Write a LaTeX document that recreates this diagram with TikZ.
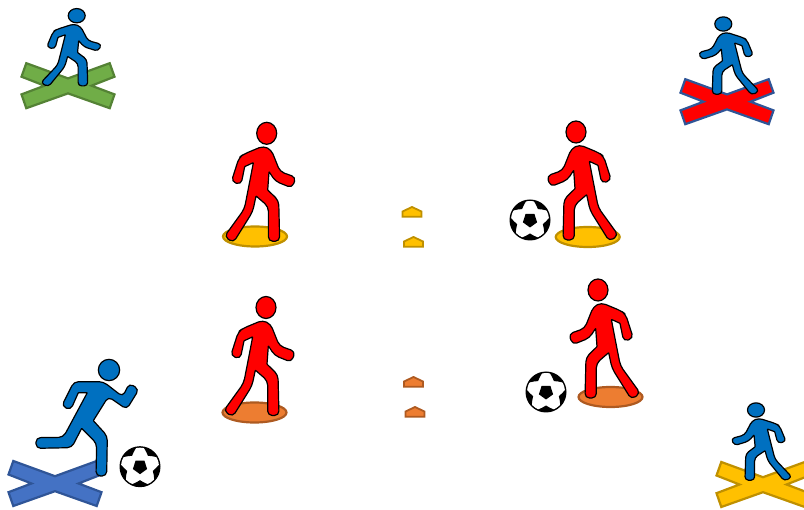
\documentclass[tikz,border=0pt]{standalone}
\definecolor{cyellow}{HTML}{FFC000}\definecolor{byellow}{HTML}{BF9000}
\definecolor{corange}{HTML}{ED7D31}\definecolor{borange}{HTML}{AE5A21}
\definecolor{cgreen}{HTML}{70AD47}\definecolor{bgreen}{HTML}{548235}
\definecolor{cblue}{HTML}{4472C4}\definecolor{bblue}{HTML}{2F5597}
\definecolor{manblue}{HTML}{0070C0}
\tikzset{
  figure/.style={draw=black,line width=1.2pt,line join=round},
  crossmark/.style={line width=2.2pt,line join=miter},
  disc/.style={line width=2.2pt},
  conemark/.style={line width=1.8pt,line join=miter},
}
% walker: x, y (head centre), xscale, yscale, colour, corner radius
\newcommand{\walker}[6]{%
  \begin{scope}[shift={(#1,#2)},xscale=#3/3,yscale=#4/3,shift={(-200,-70)}]
    \draw[figure,fill=#5,rounded corners=#6 pt]
      (190,108)--(214,120)--(240,185)--(288,202)--(276,234)--(226,214)
      [rounded corners=0.5pt]--(207,185)--(203,240)[rounded corners=#6 pt]
      --(236,272)--(239,394)--(205,394)--(205,290)[rounded corners=0.5pt]--(168,258)
      [rounded corners=#6 pt]--(158,305)--(100,398)--(73,380)--(133,297)--(150,210)
      [rounded corners=0.5pt]--(160,158)--(134,170)[rounded corners=#6 pt]
      --(123,224)--(94,215)--(117,143)--(130,133)--cycle;
    \draw[figure,fill=#5] (200,70) ellipse [x radius=30,y radius=33];
  \end{scope}}
\newcommand{\ball}[2]{%
  \begin{scope}[shift={(#1,#2)}]
    \fill[black] (0,0) circle [radius=20.5];
    \fill[white] (0,0) circle [radius=19];
    \foreach \a in {90,162,234,306,378}{
      \fill[black] (\a-26:20) arc [start angle=\a-26,end angle=\a+26,radius=20]
        -- (\a+13:16) -- (\a:13.5) -- (\a-13:16) -- cycle;
    }
    \fill[black] (90:7.5)--(162:7.5)--(234:7.5)--(306:7.5)--(18:7.5)--cycle;
  \end{scope}}
\newcommand{\crossshape}[4]{%
  \draw[crossmark,fill=#3,draw=#4,shift={(#1,#2)}]
    (0,-7.3)--(41.7,-22.5)--(46.5,-9)--(23.5,0)--(46.5,8.7)--(41.7,22.5)--(0,7.7)
    --(-41.7,22.5)--(-46.5,8.7)--(-23.5,0)--(-46.5,-9)--(-41.7,-22.5)--cycle;}
\newcommand{\cone}[4]{%
  \draw[conemark,fill=#3,draw=#4,shift={(#1,#2)}]
    (0,-5)--(9.5,-0.5)--(9.5,4.7)--(-9.5,4.7)--(-9.5,-0.5)--cycle;}
\begin{document}
\begin{tikzpicture}[x=1pt,y=-1pt]
  \useasboundingbox (0,0) rectangle (804,510);
  \clip (0,0) rectangle (804,510);
  \crossshape{68}{85.7}{cgreen}{bgreen}
  \crossshape{727}{101.7}{red}{bblue}
  \crossshape{55}{483.5}{cblue}{bblue}
  \crossshape{763}{484.5}{cyellow}{byellow}
  \draw[disc,fill=cyellow,draw=byellow] (255,236.5) ellipse [x radius=32,y radius=10];
  \draw[disc,fill=cyellow,draw=byellow] (587.7,237) ellipse [x radius=32,y radius=10];
  \draw[disc,fill=corange,draw=borange] (254.5,412.5) ellipse [x radius=32,y radius=10];
  \draw[disc,fill=corange,draw=borange] (610.5,397) ellipse [x radius=32,y radius=10];
  \cone{412}{212}{cyellow}{byellow}
  \cone{413.5}{242}{cyellow}{byellow}
  \cone{413.5}{382}{corange}{borange}
  \cone{415}{412}{corange}{borange}
  \walker{266.7}{133.3}{1}{1}{red}{4.5}
  \walker{576}{132}{-1}{1}{red}{4.5}
  \walker{266}{307.5}{1}{1}{red}{4.5}
  \walker{598}{290}{-1}{1}{red}{4.5}
  \walker{76.7}{15.7}{.85}{.65}{manblue}{3.5}
  \walker{723.3}{24}{-.85}{.65}{manblue}{3.5}
  \walker{756}{410}{-.85}{.65}{manblue}{3.5}
  \begin{scope}[shift={(0,350)},scale=1/3]
    \draw[figure,fill=manblue,rounded corners=4.5pt]
      (222,95)--(310,95)--(368,140)--(388,100)--(417,118)--(380,178)--(325,140)
      [rounded corners=0.5pt]--(280,212)[rounded corners=4.5pt]--(322,258)--(320,378)--(288,378)--(290,280)
      [rounded corners=0.5pt]--(245,235)[rounded corners=4.5pt]
      --(215,293)--(108,295)--(108,263)--(190,262)[rounded corners=0.5pt]--(262,128)--(235,128)
      [rounded corners=4.5pt]--(212,180)--(185,168)--cycle;
    \draw[figure,fill=manblue] (327,60) circle [radius=32];
  \end{scope}
  \ball{530}{220}
  \ball{546}{392}
  \ball{140}{466.7}
\end{tikzpicture}
\end{document}
